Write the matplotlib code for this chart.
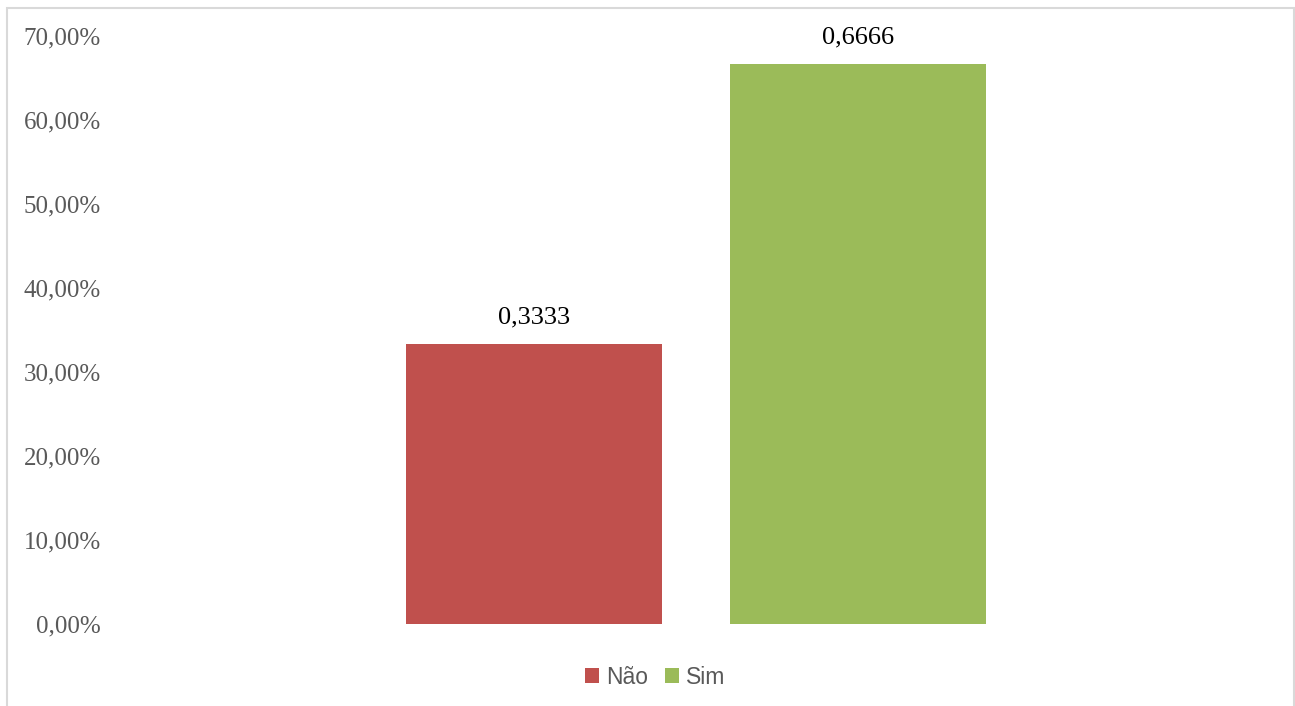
import matplotlib.pyplot as plt
from matplotlib.patches import Rectangle
from matplotlib.ticker import FuncFormatter

# data
series = ["Não", "Sim"]
values = [0.3333, 0.6666]
labels = ["0,3333", "0,6666"]
colors = ["#C0504D", "#9BBB59"]
yticks = [0, 0.1, 0.2, 0.3, 0.4, 0.5, 0.6, 0.7]

serif = ["Liberation Serif", "DejaVu Serif"]

fig = plt.figure(figsize=(12.95, 7.06), dpi=100)
ax = fig.add_axes([112 / 1295, 82 / 706, 1168 / 1295, 588 / 706])

x = [0, 1]
bars = []
for xi, v, c, s in zip(x, values, colors, series):
    bars.append(ax.bar(xi, v, width=256 / 324, color=c, label=s)[0])

for b, t in zip(bars, labels):
    ax.text(b.get_x() + b.get_width() / 2, b.get_height() + 0.019, t,
            ha="center", va="bottom", fontsize=19, family=serif,
            color="black")

ax.set_xlim(-1.3025, 2.3025)
ax.set_ylim(0, 0.7)
ax.set_yticks(yticks)
ax.yaxis.set_major_formatter(FuncFormatter(lambda v, p: f"{v * 100:.2f}%".replace(".", ",")))
ax.set_xticks([])
for lab in ax.get_yticklabels():
    lab.set_family(serif)
ax.tick_params(axis="y", length=0, pad=8, labelsize=18, labelcolor="#595959")
for sp in ax.spines.values():
    sp.set_visible(False)

leg = fig.legend(loc="center", bbox_to_anchor=(655 / 1295, 1 - 677 / 706), ncol=2,
                 frameon=False, prop={"family": "Liberation Sans", "size": 16.5},
                 handlelength=0.6, handleheight=0.6, handletextpad=0.3,
                 columnspacing=0.75, labelcolor="#595959")

# outer chart border
fig.patches.append(Rectangle((7 / 1295, -0.1), 1287 / 1295, 1.1 - 8 / 706,
                             transform=fig.transFigure, fill=False,
                             edgecolor="#D9D9D9", lw=1.5))

fig.savefig("out.png", dpi=100)
